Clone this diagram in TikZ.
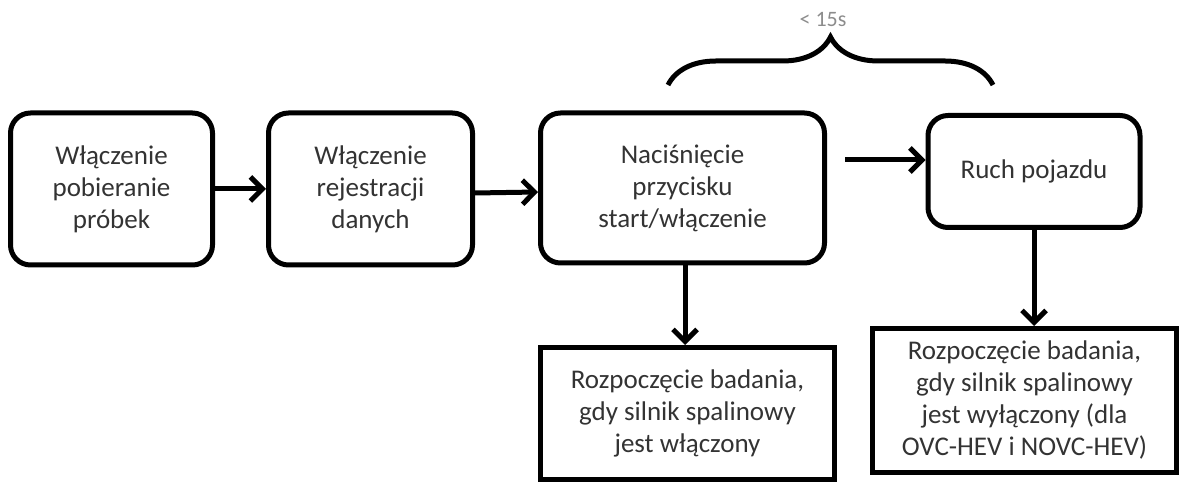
\documentclass[tikz,border=0pt]{standalone}
\usepackage{fontspec}
\setmainfont{Carlito}
\usetikzlibrary{arrows.meta}
\usetikzlibrary{calc}
\usetikzlibrary{decorations.pathreplacing}
\definecolor{textGray}{HTML}{333333}
\definecolor{labelGray}{HTML}{8C8C8C}

\begin{document}
\begin{tikzpicture}[x=0.5pt,y=-0.5pt,
		stepBox/.style={draw, line width=2.5pt, rounded corners=10pt, align=center, text=textGray, inner sep=0pt, font=\fontsize{13.5}{16}\selectfont},
		resultBox/.style={stepBox, rounded corners=0pt},
		flowArrow/.style={line width=2.5pt, -{Straight Barb[length=6pt,width=12pt]}}]

		\useasboundingbox (0,0) rectangle (1179,485);

		\node[stepBox, minimum width=101pt, minimum height=76pt] (B1) at (111.5,189) {Włączenie\\pobieranie\\próbek};
		\node[stepBox, minimum width=102pt, minimum height=76pt] (B2) at (370.5,189) {Włączenie\\rejestracji\\danych};
		\node[stepBox, minimum width=142pt, minimum height=75pt] (B3) at (682.5,188) {Naciśnięcie\\przycisku\\start/włączenie};
		\node[stepBox, minimum width=106pt, minimum height=56pt] (B4) at (1034,171.5) {Ruch pojazdu};
		\node[resultBox, minimum width=147pt, minimum height=66pt] (B5) at (687.5,413.5) {Rozpoczęcie badania,\\gdy silnik spalinowy\\jest włączony};
		\node[resultBox, minimum width=152pt, minimum height=72pt] (B6) at (1024.5,400.5) {Rozpoczęcie badania,\\gdy silnik spalinowy\\jest wyłączony (dla\\OVC-HEV i NOVC-HEV)};

		\coordinate (A3) at (845,160);
		\coordinate (BR_L) at (668,85);
		\coordinate (BR_R) at (993,85);

		\draw[flowArrow] (B1.east) -- (B2.west);
		\draw[flowArrow] ([yshift=-2pt]B2.east) -- ([yshift=-2pt]B3.west);
		\draw[flowArrow] (A3) -- (A3 -| B4.west);
		\draw[flowArrow] ([xshift=1.25pt]B3.south) -- ([xshift=1.25pt]B3.south |- B5.north);
		\draw[flowArrow] (B4.south) -- (B4.south |- B6.north);

		\draw[line width=2.5pt, decorate, decoration={brace, amplitude=24pt}] (BR_L) -- (BR_R);
		\node[text=labelGray, font=\fontsize{11}{13}\selectfont] (LIM) at (823,20) {< 15s};

	\end{tikzpicture}
\end{document}
